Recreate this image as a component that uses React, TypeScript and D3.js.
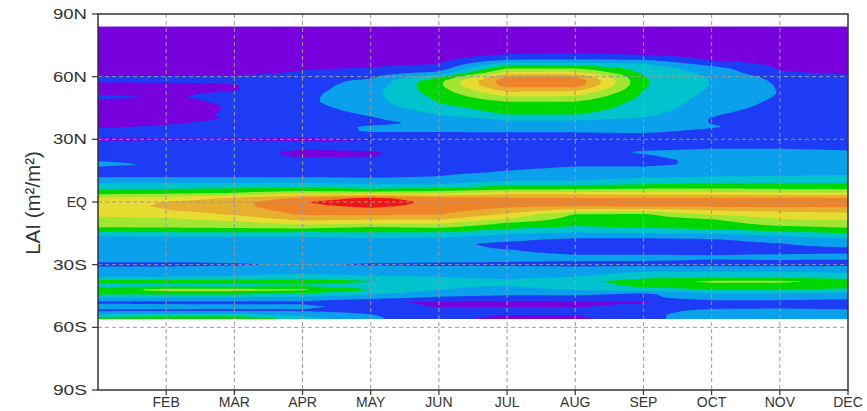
import React, { useMemo } from "react";
import * as d3 from "d3";

// Month axis
const MONTHS = ["JAN", "FEB", "MAR", "APR", "MAY", "JUN", "JUL", "AUG", "SEP", "OCT", "NOV", "DEC"];

// Latitude nodes (deg, + = N) for the monthly LAI profiles
const LATS = [
  84, 74, 72, 70, 68, 66, 64, 62,
  60, 58, 56, 54, 52, 50, 48, 46,
  44, 42, 40, 38, 36, 34, 32, 30,
  28, 26, 24, 22, 20, 18, 16, 14,
  12, 10, 8, 6, 4, 2, 0, -2,
  -4, -6, -8, -10, -12, -14, -16, -18,
  -20, -22, -24, -26, -28, -30, -32, -34,
  -36, -38, -40, -42, -44, -46, -48, -50,
  -52, -54, -56,
];

// Zonal-mean LAI (m2/m2) per month, one value per latitude node
const LAI_JAN = [
  0.2, 0.2, 0.2, 0.2, 0.2, 0.2, 0.2, 0.25,
  0.55, 0.6, 0.35, 0.3, 0.45, 0.6, 0.35, 0.3,
  0.3, 0.3, 0.3, 0.35, 0.45, 0.6, 0.7, 0.4,
  0.65, 0.75, 0.8, 0.8, 0.95, 1.15, 0.85, 0.85,
  0.98, 1.3, 1.7, 2.02, 2.4, 3.05, 3.3, 3.35,
  3.3, 3.1, 2.9, 2.7, 2.52, 2.05, 1.55, 1.3,
  1.2, 1.2, 1.15, 1.15, 1.1, 0.85, 1.2, 1.3,
  1.52, 2.2, 1.8, 2.3, 2.1, 1.52, 0.9, 1.2,
  0.9, 1.6, 2.3,
];
const LAI_FEB = [
  0.2, 0.2, 0.2, 0.2, 0.2, 0.2, 0.2, 0.25,
  0.55, 0.6, 0.38, 0.35, 0.45, 0.45, 0.35, 0.3,
  0.3, 0.3, 0.3, 0.45, 0.55, 0.6, 0.7, 0.45,
  0.7, 0.75, 0.8, 0.8, 0.85, 0.9, 0.8, 0.85,
  0.98, 1.3, 1.7, 2.05, 2.48, 3.2, 3.52, 3.55,
  3.48, 3.2, 2.95, 2.75, 2.55, 2.1, 1.6, 1.3,
  1.2, 1.2, 1.15, 1.15, 1.1, 0.85, 1.2, 1.3,
  1.52, 2.3, 1.8, 2.7, 2.1, 1.4, 0.85, 1.2,
  0.9, 1.7, 2.6,
];
const LAI_MAR = [
  0.2, 0.2, 0.2, 0.2, 0.2, 0.2, 0.25, 0.35,
  0.55, 0.6, 0.48, 0.47, 0.55, 0.62, 0.6, 0.55,
  0.55, 0.58, 0.55, 0.6, 0.65, 0.7, 0.7, 0.45,
  0.7, 0.75, 0.7, 0.7, 0.8, 0.8, 0.8, 0.85,
  0.98, 1.3, 1.75, 2.1, 2.6, 3.55, 3.8, 3.85,
  3.75, 3.55, 3.2, 2.85, 2.6, 2.15, 1.6, 1.3,
  1.2, 1.2, 1.2, 1.15, 1.1, 0.95, 1.2, 1.35,
  1.6, 2.3, 1.8, 2.7, 2.1, 1.4, 0.85, 1.15,
  0.9, 1.7, 2.6,
];
const LAI_APR = [
  0.2, 0.2, 0.2, 0.2, 0.22, 0.3, 0.45, 0.55,
  0.7, 0.8, 0.8, 0.8, 0.85, 0.88, 0.9, 0.85,
  0.8, 0.75, 0.75, 0.75, 0.8, 0.75, 0.7, 0.4,
  0.6, 0.6, 0.4, 0.42, 0.7, 0.75, 0.8, 0.85,
  0.98, 1.3, 1.8, 2.2, 3.02, 4.05, 4.47, 4.35,
  4.2, 4.05, 3.7, 3.2, 2.7, 2.1, 1.6, 1.3,
  1.25, 1.2, 1.2, 1.15, 1.1, 1.05, 1.2, 1.4,
  1.8, 2.3, 1.9, 2.6, 1.9, 1.3, 0.9, 1.1,
  0.95, 1.3, 1.8,
];
const LAI_MAY = [
  0.2, 0.2, 0.2, 0.25, 0.35, 0.42, 0.52, 0.7,
  0.9, 1.1, 1.2, 1.3, 1.35, 1.35, 1.3, 1.25,
  1.15, 1.05, 0.95, 0.9, 1.05, 1.05, 0.85, 0.48,
  0.6, 0.65, 0.47, 0.47, 0.7, 0.75, 0.8, 0.85,
  0.95, 1.2, 1.6, 2.1, 2.9, 4.62, 4.95, 4.62,
  4.3, 4.05, 3.6, 3.15, 2.48, 2.1, 1.7, 1.4,
  1.25, 1.2, 1.2, 1.15, 1.1, 0.95, 1.2, 1.3,
  1.6, 2.05, 1.7, 2.02, 1.52, 1.1, 0.6, 0.8,
  0.85, 1.02, 1.1,
];
const LAI_JUN = [
  0.2, 0.2, 0.25, 0.3, 0.38, 0.5, 0.7, 1.1,
  1.9, 2.35, 2.4, 2.3, 2.2, 2.1, 2.03, 1.9,
  1.7, 1.52, 1.3, 1.1, 1.1, 1.05, 0.85, 0.6,
  0.7, 0.7, 0.65, 0.7, 0.75, 0.8, 0.85, 0.9,
  1.02, 1.2, 1.6, 2.2, 3.02, 4.1, 4.27, 4.3,
  4.2, 4.02, 3.6, 3.1, 2.6, 2.1, 1.7, 1.3,
  1.1, 1.15, 1.2, 1.15, 1.1, 0.9, 1.2, 1.3,
  1.52, 1.7, 1.52, 1.52, 1.2, 0.9, 0.4, 0.45,
  0.8, 0.7, 0.65,
];
const LAI_JUL = [
  0.2, 0.3, 0.35, 0.6, 1.02, 1.8, 2.48, 3.1,
  4.02, 4.35, 4.25, 3.8, 3.3, 2.9, 2.48, 2.35,
  2.2, 2.02, 1.6, 1.4, 1.25, 1.05, 0.9, 0.7,
  0.75, 0.75, 0.75, 0.8, 0.85, 0.9, 0.95, 1.05,
  1.3, 1.52, 2.02, 2.45, 3.4, 4.05, 4.2, 4.1,
  3.8, 3.4, 3.02, 2.48, 2.15, 1.8, 1.4, 1.1,
  0.9, 0.95, 1.1, 1.2, 1.05, 0.9, 1.2, 1.25,
  1.4, 1.6, 1.52, 1.4, 1.1, 0.8, 0.4, 0.45,
  0.75, 0.5, 0.35,
];
const LAI_AUG = [
  0.2, 0.3, 0.4, 0.65, 1.05, 1.8, 2.48, 3.1,
  4.02, 4.4, 4.3, 3.75, 3.25, 2.85, 2.48, 2.35,
  2.2, 2.02, 1.6, 1.4, 1.25, 1.05, 0.9, 0.75,
  0.75, 0.75, 0.8, 0.85, 0.9, 0.95, 1.05, 1.2,
  1.3, 1.52, 2.02, 2.52, 3.4, 4.02, 4.15, 4.02,
  3.3, 2.45, 2.3, 2.15, 1.95, 1.6, 1.2, 0.9,
  0.75, 0.75, 0.85, 1.1, 1.02, 0.85, 1.2, 1.3,
  1.52, 1.9, 1.6, 1.52, 1.1, 0.8, 0.4, 0.45,
  0.75, 0.5, 0.35,
];
const LAI_SEP = [
  0.2, 0.25, 0.35, 0.55, 1.02, 1.55, 1.8, 1.9,
  2.02, 2.05, 2.05, 2.02, 1.95, 1.9, 1.85, 1.8,
  1.75, 1.65, 1.45, 1.35, 1.25, 1.1, 0.9, 0.8,
  0.8, 0.85, 1.05, 0.95, 0.85, 0.9, 1.1, 1.3,
  1.45, 1.7, 2.1, 2.6, 3.3, 4.02, 4.2, 4.05,
  3.2, 2.4, 2.3, 2.2, 2.05, 1.7, 1.2, 0.9,
  0.75, 0.75, 0.85, 1.1, 1.02, 0.85, 1.25, 1.6,
  1.9, 2.2, 2.2, 1.7, 0.9, 0.9, 0.45, 0.65,
  0.85, 0.9, 0.9,
];
const LAI_OCT = [
  0.2, 0.2, 0.25, 0.35, 0.45, 0.8, 1.2, 1.35,
  1.45, 1.48, 1.48, 1.45, 1.4, 1.35, 1.3, 1.25,
  1.15, 1.05, 0.98, 0.98, 1.05, 0.9, 0.8, 0.75,
  0.8, 0.95, 1.15, 1.2, 1.15, 1.1, 1.2, 1.35,
  1.52, 1.75, 2.2, 2.6, 3.3, 4.05, 4.3, 4.1,
  3.52, 3.05, 2.52, 2.3, 2.2, 1.8, 1.3, 0.95,
  0.8, 0.8, 0.85, 1.05, 0.98, 0.85, 1.25, 1.6,
  1.9, 2.6, 2.3, 2.02, 1.4, 1.2, 0.8, 0.85,
  1.1, 1.2, 1.2,
];
const LAI_NOV = [
  0.2, 0.2, 0.2, 0.25, 0.3, 0.38, 0.45, 0.55,
  0.8, 0.9, 0.95, 0.97, 0.98, 0.95, 0.9, 0.85,
  0.8, 0.75, 0.7, 0.72, 0.75, 0.7, 0.7, 0.7,
  0.8, 0.95, 1.15, 1.2, 1.2, 1.2, 1.25, 1.35,
  1.55, 1.8, 2.2, 2.55, 3.2, 4.05, 4.3, 4.1,
  3.6, 3.3, 3.02, 2.75, 2.4, 2.02, 1.52, 1.2,
  0.98, 0.9, 0.85, 1.15, 0.98, 0.85, 1.25, 1.6,
  1.9, 2.6, 2.3, 2.02, 1.4, 1.2, 0.8, 0.85,
  1.15, 1.25, 1.3,
];
const LAI_DEC = [
  0.2, 0.2, 0.2, 0.2, 0.22, 0.25, 0.3, 0.4,
  0.6, 0.7, 0.75, 0.75, 0.75, 0.75, 0.75, 0.75,
  0.7, 0.7, 0.7, 0.7, 0.7, 0.7, 0.7, 0.7,
  0.8, 0.9, 1.05, 1.15, 1.2, 1.2, 1.25, 1.4,
  1.6, 1.8, 2.2, 2.52, 3.2, 4.02, 4.2, 4.1,
  3.7, 3.3, 3.1, 2.8, 2.55, 2.2, 1.8, 1.4,
  1.2, 0.97, 0.9, 1.2, 0.95, 0.9, 1.2, 1.52,
  1.8, 2.3, 2.2, 1.9, 1.3, 1.1, 0.75, 0.8,
  1.1, 1.2, 1.25,
];

const LAI_MONTHLY = [
  LAI_JAN, LAI_FEB, LAI_MAR, LAI_APR, LAI_MAY, LAI_JUN,
  LAI_JUL, LAI_AUG, LAI_SEP, LAI_OCT, LAI_NOV, LAI_DEC,
];

// Shading levels and colours (GrADS rainbow)
const LEVELS = [0.5, 1, 1.5, 2, 2.5, 3, 3.5, 4, 4.5];
const FILL_COLORS = [
  "rgb(120,0,220)",
  "rgb(30,60,245)",
  "rgb(10,160,235)",
  "rgb(0,195,205)",
  "rgb(0,215,0)",
  "rgb(160,230,50)",
  "rgb(230,220,50)",
  "rgb(230,175,45)",
  "rgb(240,130,40)",
  "rgb(240,20,20)",
];

const LAT_TICKS = [90, 60, 30, 0, -30, -60, -90];
const LAT_TICK_LABELS = ["90N", "60N", "30N", "EQ", "30S", "60S", "90S"];
const GRID_LATS = [60, 30, 0, -30, -60];

function laiAt(month: number, lat: number): number {
  const mm = Math.max(0, Math.min(11, month - 1));
  const j0 = Math.min(10, Math.floor(mm));
  const t = mm - j0;
  let k = 0;
  while (k < LATS.length - 2 && LATS[k + 1] > lat) k++;
  let u = (LATS[k] - lat) / (LATS[k] - LATS[k + 1]);
  u = Math.max(0, Math.min(1, u));
  const a = LAI_MONTHLY[j0];
  const b = LAI_MONTHLY[j0 + 1];
  const top = a[k] * (1 - t) + b[k] * t;
  const bot = a[k + 1] * (1 - t) + b[k + 1] * t;
  return top * (1 - u) + bot * u;
}

const W = 867;
const H = 411;
const X0 = 98;
const X1 = 848;
const Y0 = 14;
const Y1 = 390;

export default function App() {
  const x = d3.scaleLinear().domain([1, 12]).range([X0, X1]);
  const y = d3.scaleLinear().domain([90, -90]).range([Y0, Y1]);

  const field = useMemo(() => {
    const gx0 = X0;
    const gx1 = X1;
    const gy0 = y(LATS[0]);
    const gy1 = y(LATS[LATS.length - 1]);
    const nx = 375;
    const ny = Math.round(gy1 - gy0);
    const sx = (gx1 - gx0) / nx;
    const sy = (gy1 - gy0) / ny;
    const values = new Float64Array(nx * ny);
    for (let j = 0; j < ny; j++) {
      const lat = y.invert(gy0 + (j + 0.5) * sy);
      for (let i = 0; i < nx; i++) {
        const m = x.invert(gx0 + (i + 0.5) * sx);
        values[j * nx + i] = laiAt(m, lat);
      }
    }
    const contours = d3.contours().size([nx, ny]).thresholds(LEVELS)(values as any);
    const proj = d3.geoTransform({
      point: function (px: number, py: number) {
        (this as any).stream.point(gx0 + px * sx, gy0 + py * sy);
      },
    });
    const path = d3.geoPath(proj);
    const paths = contours.map((c, idx) => ({ d: path(c as any) || "", color: FILL_COLORS[idx + 1] }));
    return { gx0, gx1, gy0, gy1, paths };
  }, []);

  const font = "'Liberation Sans', Arial, Helvetica, sans-serif";

  return (
    <svg
      width={W}
      height={H}
      viewBox={`0 0 ${W} ${H}`}
      style={{ position: "absolute", left: 0, top: 0, background: "#fff" }}
    >
      <rect x={0} y={0} width={W} height={H} fill="#fff" />
      {/* shaded field */}
      <rect
        x={field.gx0}
        y={field.gy0}
        width={field.gx1 - field.gx0}
        height={field.gy1 - field.gy0}
        fill={FILL_COLORS[0]}
      />
      {field.paths.map((p, i) => (
        <path key={i} d={p.d} fill={p.color} stroke="none" />
      ))}

      {/* grid */}
      {MONTHS.slice(1, 11).map((mName, i) => (
        <line
          key={"gx" + mName}
          x1={x(i + 2)}
          x2={x(i + 2)}
          y1={Y0}
          y2={Y1}
          stroke="#9a9a9a"
          strokeWidth={1}
          strokeDasharray="4,3"
        />
      ))}
      {GRID_LATS.map((lat) => (
        <line
          key={"gy" + lat}
          x1={X0}
          x2={X1}
          y1={y(lat)}
          y2={y(lat)}
          stroke="#9a9a9a"
          strokeWidth={1}
          strokeDasharray="4,3"
        />
      ))}

      {/* frame */}
      <rect x={X0} y={Y0} width={X1 - X0} height={Y1 - Y0} fill="none" stroke="#333" strokeWidth={1.5} />

      {/* y ticks and labels */}
      {LAT_TICKS.map((lat, i) => (
        <g key={"yt" + lat}>
          <line x1={X0 - 6} x2={X0} y1={y(lat)} y2={y(lat)} stroke="#333" strokeWidth={1.2} />
          <text
            x={87}
            y={y(lat) + 5}
            textAnchor="end"
            fontFamily={font}
            fontSize={14}
            fill="#333"
            {...(LAT_TICK_LABELS[i].length === 3 ? { textLength: 34, lengthAdjust: "spacingAndGlyphs" } : {})}
          >
            {LAT_TICK_LABELS[i]}
          </text>
        </g>
      ))}

      {/* x ticks and labels */}
      {MONTHS.slice(1).map((mName, i) => (
        <g key={"xt" + mName}>
          <line x1={x(i + 2)} x2={x(i + 2)} y1={Y1} y2={Y1 + 5} stroke="#333" strokeWidth={1.2} />
          <text x={x(i + 2)} y={407} textAnchor="middle" fontFamily={font} fontSize={14} fill="#333">
            {mName}
          </text>
        </g>
      ))}

      {/* y title */}
      <text
        transform={`translate(40, 203) rotate(-90)`}
        textAnchor="middle"
        fontFamily={font}
        fontSize={20.5}
        fill="#333"
      >
        LAI (m²/m²)
      </text>
    </svg>
  );
}
